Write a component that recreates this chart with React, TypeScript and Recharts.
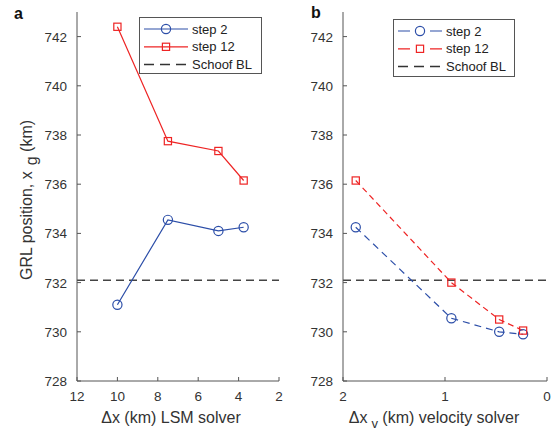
import { LineChart, Line, XAxis, YAxis, ReferenceLine } from "recharts";

// panel a: grid spacing of the level-set (LSM) solver
const lsmDx = [10, 7.5, 5, 3.75];
const lsmStep2 = [731.1, 734.55, 734.1, 734.25];
const lsmStep12 = [742.4, 737.75, 737.35, 736.15];

// panel b: grid spacing of the velocity solver
const velDx = [1.875, 0.9375, 0.46875, 0.234375];
const velStep2 = [734.25, 730.55, 730.0, 729.9];
const velStep12 = [736.15, 732.0, 730.5, 730.05];

const schoofBL = 732.1;

const yTicks = [728, 730, 732, 734, 736, 738, 740, 742];
const lsmTicks = [2, 4, 6, 8, 10, 12];
const velTicks = [0, 1, 2];
const legendNames = ["step 2", "step 12", "Schoof BL"];

const BLUE = "#2c4ea8";
const RED = "#ee2424";
const AXIS = "#555";
const TEXT = "#333";
const FONT = '"Liberation Sans", Arial, Helvetica, sans-serif';
const TICK_LEN = 4;

const lsmData = lsmDx.map((dx, i) => ({ dx, step2: lsmStep2[i], step12: lsmStep12[i] }));
const velData = velDx.map((dx, i) => ({ dx, step2: velStep2[i], step12: velStep12[i] }));

const LeftTick = ({ x, y, payload }: any) => (
  <g>
    <line x1={x + 10} x2={x + 10 + TICK_LEN} y1={y} y2={y} stroke={AXIS} />
    <text x={x} y={y} dy={5} textAnchor="end" fontSize={13.5} fill={TEXT} fontFamily={FONT}>
      {payload.value}
    </text>
  </g>
);
const RightTick = ({ x, y }: any) => <line x1={x - TICK_LEN} x2={x} y1={y} y2={y} stroke={AXIS} />;
const BottomTick = ({ x, y, payload }: any) => (
  <g>
    <line x1={x} x2={x} y1={y - 6} y2={y - 6 - TICK_LEN} stroke={AXIS} />
    <text x={x} y={y} dy={14} textAnchor="middle" fontSize={13.5} fill={TEXT} fontFamily={FONT}>
      {payload.value}
    </text>
  </g>
);
const TopTick = ({ x, y }: any) => <line x1={x} x2={x} y1={y} y2={y + TICK_LEN} stroke={AXIS} />;

const Square = (color: string) => (props: any) => {
  const { cx, cy, index } = props;
  return (
    <rect key={`sq-${index}`} x={cx - 3.6} y={cy - 3.6} width={7.2} height={7.2}
      fill="none" stroke={color} strokeWidth={1.2} strokeDasharray="none" />
  );
};
const Circle = (color: string) => (props: any) => {
  const { cx, cy, index } = props;
  return (
    <circle key={`ci-${index}`} cx={cx} cy={cy} r={4.6}
      fill="none" stroke={color} strokeWidth={1.2} strokeDasharray="none" />
  );
};

// legend drawn in svg: box at (x, y), rows every 17.8px
const LegendSvg = ({ x, y, w, h, dashed }: { x: number; y: number; w: number; h: number; dashed: boolean }) => (
  <g>
    <rect x={x} y={y} width={w} height={h} fill="#fff" stroke="#555" strokeWidth={1} />
    {legendNames.map((name, i) => {
      const cy = y + 11.5 + i * 17.8;
      const lx = x + 4.5;
      const color = i === 0 ? BLUE : i === 1 ? RED : "#333";
      return (
        <g key={name}>
          {i === 2 ? (
            <line x1={lx} x2={lx + 44} y1={cy} y2={cy} stroke={color} strokeWidth={1.5} strokeDasharray="10 6" />
          ) : (
            <line x1={lx} x2={lx + 44} y1={cy} y2={cy} stroke={color} strokeWidth={1.2}
              strokeDasharray={dashed ? "12 20 12" : undefined} />
          )}
          {i === 0 && <circle cx={lx + 22} cy={cy} r={4.6} fill="none" stroke={color} strokeWidth={1.2} />}
          {i === 1 && <rect x={lx + 18.4} y={cy - 3.6} width={7.2} height={7.2} fill="none" stroke={color} strokeWidth={1.2} />}
          <text x={lx + 48} y={cy + 4.6} fontSize={13} fill="#222" fontFamily={FONT}>{name}</text>
        </g>
      );
    })}
  </g>
);

interface PanelProps {
  data: { dx: number; step2: number; step12: number }[];
  xDomain: [number, number];
  xTicks: number[];
  dashed: boolean;
  width: number;
  left: number;
  marginLeft: number;
  marginRight: number;
}

const Panel = ({ data, xDomain, xTicks, dashed, width, left, marginLeft, marginRight }: PanelProps) => (
  <div style={{ position: "absolute", left, top: 0 }}>
    <LineChart width={width} height={434} data={data}
      margin={{ top: 12, right: marginRight, bottom: 23, left: marginLeft }}>
      <XAxis xAxisId="b" type="number" dataKey="dx" domain={xDomain} ticks={xTicks} reversed
        allowDataOverflow height={30} tickSize={0} tickMargin={6} tickLine={false}
        axisLine={{ stroke: AXIS }} tick={<BottomTick />} interval={0} />
      <XAxis xAxisId="t" type="number" dataKey="dx" domain={xDomain} ticks={xTicks} reversed
        allowDataOverflow orientation="top" height={0} tickSize={0} tickMargin={0} tickLine={false}
        axisLine={{ stroke: AXIS }} tick={<TopTick />} interval={0} />
      <YAxis yAxisId="l" type="number" domain={[728, 743]} ticks={yTicks} allowDataOverflow
        width={40} tickSize={0} tickMargin={10} tickLine={false} axisLine={{ stroke: AXIS }}
        tick={<LeftTick />} interval={0} />
      <YAxis yAxisId="r" type="number" domain={[728, 743]} ticks={yTicks} allowDataOverflow
        orientation="right" width={0} tickSize={0} tickMargin={0} tickLine={false}
        axisLine={{ stroke: AXIS }} tick={<RightTick />} interval={0} />
      <ReferenceLine xAxisId="b" yAxisId="l" y={schoofBL} stroke="#444" strokeWidth={1.5} strokeDasharray="8 5" />
      <Line xAxisId="b" yAxisId="l" dataKey="step2" stroke={BLUE} strokeWidth={1.2}
        strokeDasharray={dashed ? "7 5" : undefined} dot={Circle(BLUE)} isAnimationActive={false} />
      <Line xAxisId="b" yAxisId="l" dataKey="step12" stroke={RED} strokeWidth={1.2}
        strokeDasharray={dashed ? "6 4" : undefined} dot={Square(RED)} isAnimationActive={false} />
    </LineChart>
  </div>
);

export default function App() {
  return (
    <div style={{ position: "absolute", left: 0, top: 0, width: 553, height: 434, background: "#fff", fontFamily: FONT }}>
      <Panel data={lsmData} xDomain={[2, 12]} xTicks={lsmTicks} dashed={false}
        width={290} left={0} marginLeft={37} marginRight={11} />
      <Panel data={velData} xDomain={[0, 2]} xTicks={velTicks} dashed
        width={263} left={290} marginLeft={13} marginRight={6} />
      <svg width={553} height={434} style={{ position: "absolute", left: 0, top: 0, pointerEvents: "none" }}>
        <LegendSvg x={139.5} y={17.5} w={122} h={56} dashed={false} />
        <LegendSvg x={393.5} y={19.5} w={121} h={57} dashed />
        <text x={14} y={19} fontSize={16} fontWeight="bold" fill="#111" fontFamily={FONT}>a</text>
        <text x={311} y={18} fontSize={16} fontWeight="bold" fill="#111" fontFamily={FONT}>b</text>
        <text transform="translate(32,200) rotate(-90)" textAnchor="middle" fontSize={16} fill={TEXT} fontFamily={FONT}>
          GRL position, x<tspan dx={6} dy={5}>g</tspan><tspan dy={-5}> (km)</tspan>
        </text>
        <text x={171} y={423} textAnchor="middle" fontSize={16} fill={TEXT} fontFamily={FONT}>
          Δx (km) LSM solver
        </text>
        <text x={434} y={423} textAnchor="middle" fontSize={16} fill={TEXT} fontFamily={FONT}>
          Δx<tspan dx={4} dy={5} fontSize={13}>v</tspan><tspan dy={-5}> (km) velocity solver</tspan>
        </text>
      </svg>
    </div>
  );
}
